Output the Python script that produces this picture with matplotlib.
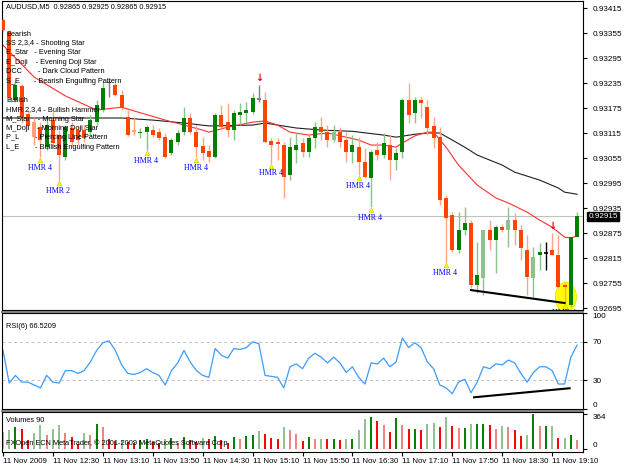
import matplotlib
matplotlib.use("Agg")
import matplotlib.pyplot as plt
from matplotlib.patches import Ellipse
from matplotlib.lines import Line2D
import matplotlib.transforms as mtransforms
import numpy as np

# AUDUSD M5, 11 Nov 2009 11:50 .. 19:30 (prices in 1e-5 points)
opens = [93386, 93357, 93194, 93228, 93160, 93141, 93129, 93081, 93146, 93110,
         93057, 93127, 93122, 93122, 93117, 93141, 93170, 93237, 93230, 93206,
         93153, 93122, 93115, 93117, 93122, 93117, 93105, 93067, 93093, 93117,
         93151, 93117, 93084, 93072, 93057, 93158, 93141, 93122, 93158, 93163,
         93165, 93199, 93194, 93096, 93093, 93086, 93014, 93074, 93091, 93069,
         93103, 93129, 93117, 93098, 93117, 93098, 93069, 93081, 93045, 93007,
         93074, 93062, 93086, 93050, 93069, 93194, 93163, 93194, 93177, 93132,
         93105, 92959, 92918, 92834, 92882, 92899, 92750, 92767, 92882, 92858,
         92889, 92882, 92906, 92882, 92834, 92767, 92822, 92827, 92834, 92822,
         92750, 92702, 92865]
highs = [93391, 93362, 93242, 93232, 93170, 93151, 93141, 93151, 93165, 93122,
         93134, 93141, 93132, 93134, 93158, 93194, 93242, 93242, 93235, 93218,
         93170, 93153, 93127, 93134, 93134, 93127, 93115, 93103, 93122, 93177,
         93163, 93134, 93105, 93086, 93163, 93182, 93187, 93170, 93187, 93189,
         93211, 93230, 93213, 93103, 93103, 93093, 93105, 93115, 93103, 93110,
         93141, 93153, 93134, 93134, 93129, 93117, 93110, 93105, 93079, 93074,
         93093, 93115, 93110, 93079, 93199, 93235, 93201, 93201, 93194, 93153,
         93129, 92966, 92925, 92925, 92937, 92906, 92853, 92882, 92906, 92894,
         92896, 92937, 92923, 92894, 92870, 92841, 92851, 92853, 92875, 92870,
         92755, 92865, 92925]
lows = [93357, 93194, 93189, 93139, 93122, 93086, 93057, 93074, 93079, 93002,
        93050, 93084, 93086, 93093, 93110, 93134, 93165, 93201, 93204, 93170,
        93108, 93110, 93103, 93074, 93105, 93098, 93055, 93062, 93086, 93110,
        93112, 93057, 93050, 93045, 93055, 93122, 93105, 93098, 93134, 93139,
        93160, 93189, 93091, 93043, 93050, 92959, 93002, 93043, 93057, 93057,
        93079, 93098, 93081, 93093, 93081, 93045, 93043, 93014, 93007, 92937,
        93050, 93055, 93002, 93026, 93055, 93139, 93139, 93151, 93110, 93079,
        92942, 92805, 92829, 92827, 92870, 92743, 92731, 92726, 92834, 92779,
        92877, 92841, 92846, 92810, 92726, 92721, 92786, 92786, 92822, 92743,
        92707, 92697, 92865]
closes = [93362, 93201, 93230, 93153, 93132, 93105, 93098, 93134, 93091, 93062,
          93129, 93093, 93098, 93103, 93146, 93182, 93223, 93235, 93206, 93175,
          93110, 93117, 93117, 93129, 93110, 93103, 93057, 93098, 93115, 93151,
          93117, 93081, 93067, 93057, 93158, 93129, 93122, 93163, 93165, 93170,
          93199, 93194, 93093, 93086, 93088, 93009, 93081, 93086, 93069, 93103,
          93129, 93117, 93098, 93117, 93093, 93069, 93086, 93045, 93009, 93069,
          93062, 93091, 93050, 93067, 93194, 93158, 93194, 93187, 93127, 93103,
          92954, 92911, 92834, 92882, 92899, 92750, 92774, 92882, 92858, 92889,
          92882, 92906, 92882, 92839, 92770, 92817, 92829, 92827, 92822, 92745,
          92745, 92865, 92915]
# g/r = normal bull/bear, G/R = pale candle, k = grey doji, b = black doji
candle_kind = ("rrgrrRrgrr" "grrrgggkrr" "rRggrrrggg" "rrrrgrrggg" "gkrrrrggrg"
               "grrGrrgrrg" "rgrggrgrrr" "rrrggrgGrg" "rGrrrGgbrr" "rgg")

volumes = [182, 200, 229, 211, 91, 164, 247, 146, 211, 255,
           164, 127, 55, 164, 146, 262, 226, 109, 80, 95,
           70, 60, 90, 110, 70, 65, 110, 120, 60, 130,
           90, 75, 120, 100, 140, 90, 60, 130, 100, 140,
           150, 190, 160, 120, 110, 230, 200, 160, 80, 130,
           100, 110, 100, 110, 90, 100, 110, 200, 310, 330,
           290, 250, 180, 320, 250, 210, 210, 200, 260, 270,
           230, 330, 240, 220, 220, 260, 260, 260, 250, 210,
           240, 230, 200, 140, 150, 364, 240, 240, 240, 120,
           120, 150, 90]

rsi = [61, 27, 35, 28, 28, 25, 22, 35, 28, 27,
       40, 40, 37, 40, 49, 61, 69, 71, 61, 46,
       37, 36, 38, 42, 38, 35, 25, 40, 48, 61,
       49, 40, 35, 33, 63, 56, 53, 63, 62, 64,
       70, 68, 35, 34, 33, 22, 44, 47, 42, 53,
       58, 54, 48, 54, 48, 38, 44, 33, 26, 48,
       47, 53, 44, 49, 74, 64, 69, 64, 49, 42,
       25, 22, 16, 28, 31, 17, 28, 44, 42, 47,
       46, 51, 48, 37, 28, 38, 44, 44, 40, 26,
       26, 54, 66.5209]

# moving averages (bar index, price points)
ma_red_bar = [0, 5, 10, 15, 19, 21, 26, 29, 32, 33, 36, 40, 42, 44, 46, 49, 52, 55,
              57, 59, 61, 63, 64, 66, 68, 69, 71, 73, 76, 79, 81, 84, 86, 88, 90, 91, 92]
ma_red_val = [93326, 93249, 93204, 93170, 93177, 93168, 93146, 93134, 93122, 93117,
              93129, 93141, 93144, 93134, 93117, 93110, 93115, 93105, 93098, 93086,
              93086, 93081, 93091, 93108, 93117, 93117, 93081, 93038, 92990, 92959,
              92947, 92925, 92906, 92889, 92865, 92863, 92868]
ma_blk_bar = [0, 13, 16, 19, 24, 29, 33, 40, 42, 44, 47, 51, 56, 61, 63, 66, 68, 70,
              72, 74, 76, 80, 82, 86, 89, 90, 92]
ma_blk_val = [93151, 93151, 93151, 93151, 93146, 93139, 93132, 93134, 93139, 93134,
              93127, 93122, 93119, 93110, 93105, 93112, 93115, 93115, 93098, 93081,
              93062, 93038, 93021, 93002, 92983, 92973, 92968]

hmr_bars = [6, 9, 23, 31, 43, 57, 59, 71, 90]
hmr_text = ["HMR 4", "HMR 2", "HMR 4", "HMR 4", "HMR 4", "HMR 4", "HMR 4", "HMR 4", "HMR 4"]
sell_arrow_bars = [41, 88]

trend_price = ([75, 90], [92738, 92707])
trend_rsi = ([75.5, 90.8], [12.2, 21.6])
circle_bar, circle_price = 90.2, 92721

time_labels = ["11 Nov 2009", "11 Nov 12:30", "11 Nov 13:10", "11 Nov 13:50",
               "11 Nov 14:30", "11 Nov 15:10", "11 Nov 15:50", "11 Nov 16:30",
               "11 Nov 17:10", "11 Nov 17:50", "11 Nov 18:30", "11 Nov 19:10"]

price_ticks = [93415, 93355, 93295, 93235, 93175, 93115, 93055, 92995,
               92935, 92875, 92815, 92755, 92695]

legend_lines = ["Bearish", "SS 2,3,4 - Shooting Star", "E_Star   - Evening Star",
                "E_Doji    - Evening Doji Star", "DCC        - Dark Cloud Pattern",
                "S_E       - Bearish Engulfing Pattern", "",
                "Bullish", "HMR 2,3,4 - Bullish Hammer", "M_Star    - Morning Star",
                "M_Doji    - Morning Doji Star", "P_L        - Piercing Line Pattern",
                "L_E        - Bullish Engulfing Pattern"]

plt.rcParams["font.family"] = ["Liberation Sans", "DejaVu Sans"]
FS_TXT = 5.3     # texts inside the panes
FS_TICK = 5.9    # right-hand scale
FS_TIME = 5.7    # time scale

W, H = 625, 469
fig = plt.figure(figsize=(W / 100, H / 100), dpi=100)
fig.patch.set_facecolor("white")


def pane(top, bottom):
    return fig.add_axes([2 / W, 1 - bottom / H, 581 / W, (bottom - top) / H])


ax = pane(1, 310)
ax_rsi = pane(313, 409)
ax_vol = pane(412, 452)

n = len(opens)
x = np.arange(n)
o = np.array(opens) / 1e5
h = np.array(highs) / 1e5
l = np.array(lows) / 1e5
c = np.array(closes) / 1e5

body_col = {"g": "#008000", "r": "#FF4500", "G": "#8FC08F", "R": "#FFA07A",
            "k": "#808080", "b": "#000000"}
wick_col = {"g": "#88C488", "r": "#FFA585", "G": "#8FC08F", "R": "#FFA07A",
            "k": "#808080", "b": "#000000"}

for a in (ax, ax_rsi, ax_vol):
    a.set_xlim(-0.16, 92.95)
    for s in a.spines.values():
        s.set_color("black")
        s.set_linewidth(0.8)
    a.set_facecolor("white")

# --- main price pane ---
ax.set_ylim(0.926902, 0.934318)
ax.axhline(closes[-1] / 1e5, color="#C0C0C0", lw=0.8, zorder=0)
ax.add_patch(Ellipse((circle_bar, circle_price / 1e5), 3.4, 0.00072,
                     facecolor="#FFFF00", edgecolor="#E0E000", lw=0.5, zorder=1))
ax.plot(ma_blk_bar, np.array(ma_blk_val) / 1e5, color="#202020", lw=0.8, zorder=2)
ax.plot(ma_red_bar, np.array(ma_red_val) / 1e5, color="#FF3030", lw=0.8, zorder=2)

for i in range(n):
    k = candle_kind[i]
    ax.vlines(x[i], l[i], h[i], color=wick_col[k], lw=1.0, zorder=3)
    lo_b, hi_b = min(o[i], c[i]), max(o[i], c[i])
    if hi_b - lo_b < 0.000015:
        ax.hlines((lo_b + hi_b) / 2, x[i] - 0.32, x[i] + 0.32, color=body_col[k], lw=1.2, zorder=4)
    else:
        ax.bar(x[i], hi_b - lo_b, bottom=lo_b, width=0.64, color=body_col[k],
               linewidth=0, zorder=4)

ax.plot(np.array(trend_price[0]), np.array(trend_price[1]) / 1e5, color="black", lw=1.5, zorder=5)

marker_shift = mtransforms.ScaledTranslation(0, -3 / 100, fig.dpi_scale_trans)
for b, t in zip(hmr_bars, hmr_text):
    ax.plot([b], [l[b]], marker="^", markersize=3.5, color="#FFFF00",
            markeredgecolor="#C8C800", markeredgewidth=0.4, zorder=6,
            transform=ax.transData + marker_shift)
    ax.annotate(t, xy=(b, l[b]), xytext=(-0.5, -7.5), textcoords="offset points",
                ha="center", va="center", color="#0000FF", fontsize=5.8,
                family="Liberation Serif", zorder=6, annotation_clip=False, clip_on=True)

for b in sell_arrow_bars:
    ax.annotate("\u2193", xy=(b, h[b]), xytext=(0, 5), textcoords="offset points",
                ha="center", va="center", color="#FF0000", fontsize=7,
                fontweight="bold", family="DejaVu Sans", zorder=6)

ax.text(4 / 581, 1 - 6 / 309,
        "AUDUSD,M5  %.5f %.5f %.5f %.5f" % (o[-1], h[-1], l[-1], c[-1]),
        transform=ax.transAxes, fontsize=FS_TXT, va="center", ha="left", color="black")
for j, line in enumerate(legend_lines):
    ax.text(4 / 581, 1 - (33 + 9.45 * j) / 309, line, transform=ax.transAxes,
            fontsize=FS_TXT, va="center", ha="left", color="black", zorder=7)

ax.yaxis.tick_right()
ax.set_yticks(np.array(price_ticks) / 1e5)
ax.set_yticklabels(["%.5f" % (p / 1e5) for p in price_ticks])
ax.tick_params(axis="y", length=3, pad=4, labelsize=FS_TICK, colors="black")
ax.set_xticks([])
trans = mtransforms.blended_transform_factory(ax.transAxes, ax.transData)
ax.text(1.009, closes[-1] / 1e5, "%.5f" % (closes[-1] / 1e5), transform=trans,
        fontsize=FS_TICK, color="white", va="center", ha="left",
        bbox=dict(boxstyle="square,pad=0.1", facecolor="black", edgecolor="black"))

# --- RSI pane ---
ax_rsi.set_ylim(0, 100)
for lvl in (70, 30):
    ax_rsi.axhline(lvl, color="#C0C0C0", lw=0.7, ls=(0, (3, 3)))
ax_rsi.plot(x, rsi, color="#3C9BFF", lw=0.9)
ax_rsi.plot(trend_rsi[0], trend_rsi[1], color="black", lw=1.5)
ax_rsi.yaxis.tick_right()
ax_rsi.set_yticks([100, 70, 30, 0])
ax_rsi.tick_params(axis="y", length=3, pad=4, labelsize=FS_TICK)
rsi_labels = ax_rsi.get_yticklabels()
rsi_labels[0].set_va("top")
rsi_labels[-1].set_va("bottom")
ax_rsi.set_xticks([])
ax_rsi.text(4 / 581, 1 - 14 / 96, "RSI(6) %.4f" % rsi[-1], transform=ax_rsi.transAxes,
            fontsize=FS_TXT, va="center", ha="left")

# --- volume pane ---
vol = np.array(volumes)
vol_up = np.r_[True, vol[1:] >= vol[:-1]]
bull = c >= o
vcols = []
for i in range(n):
    if vol_up[i]:
        vcols.append("#008000" if bull[i] else "#8FC08F")
    else:
        vcols.append("#FF0000" if not bull[i] else "#F08080")
ax_vol.vlines(x, 0, vol, colors=vcols, lw=1.4)
ax_vol.set_ylim(-30, 385)
ax_vol.yaxis.tick_right()
ax_vol.set_yticks([364, 0])
ax_vol.tick_params(axis="y", length=3, pad=4, labelsize=FS_TICK)
vol_labels = ax_vol.get_yticklabels()
vol_labels[0].set_va("top")
vol_labels[-1].set_va("bottom")
ax_vol.text(4 / 581, 0.80, "Volumes %d" % volumes[-1], transform=ax_vol.transAxes,
            fontsize=FS_TXT, va="center", ha="left")
ax_vol.text(4 / 581, 0.22, "FXOpen ECN MetaTrader, \u00a9 2001-2009 MetaQuotes Software Corp.",
            transform=ax_vol.transAxes, fontsize=FS_TXT, va="center", ha="left")
ax_vol.set_xticks(np.arange(0, 89, 8))
ax_vol.set_xticklabels(time_labels, ha="left")
ax_vol.tick_params(axis="x", length=3, pad=1, labelsize=FS_TIME)

# pane separators
for ysep in (311.5, 410.5):
    fig.add_artist(Line2D([2 / W, 583 / W], [1 - ysep / H] * 2, transform=fig.transFigure,
                          color="#808080", lw=1.5))

fig.savefig("out.png", dpi=100, facecolor="white")
